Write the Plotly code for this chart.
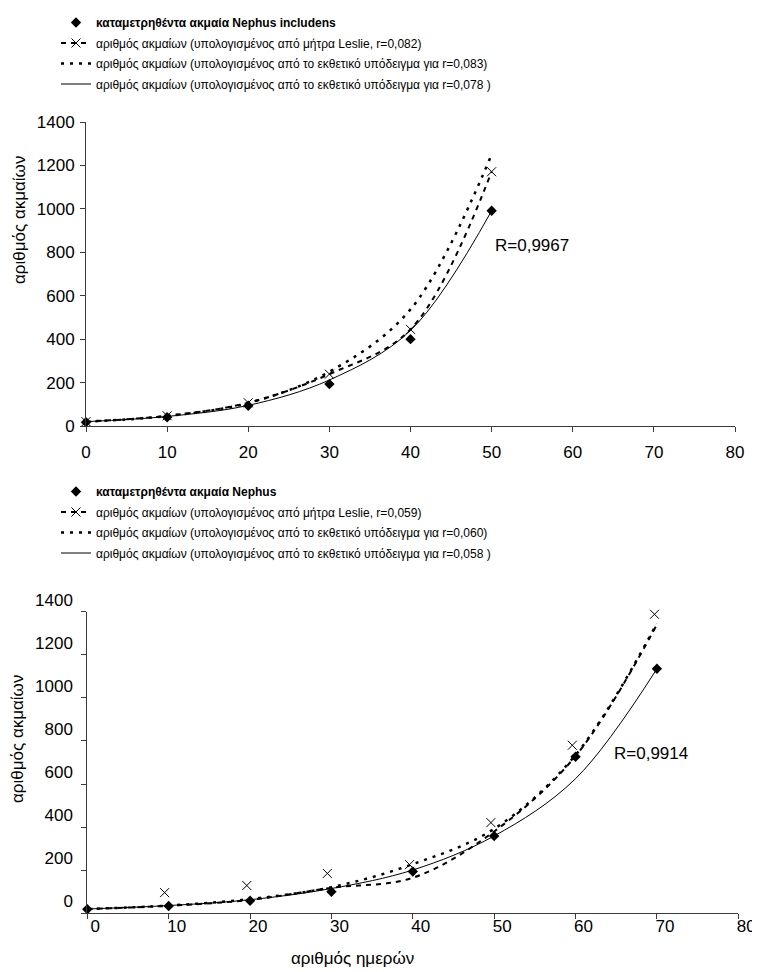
import plotly.graph_objects as go

# ---------------- data ----------------
days_top = [0, 10, 20, 30, 40, 50]
obs_top = [17, 40, 93, 193, 400, 991]
leslie_top = [20, 47, 107, 239, 445, 1171]
exp083_top = [20, 46, 106, 250, 537, 1250]
exp078_top = [20, 44, 95, 212, 440, 991]

days_bot = [0, 10, 20, 30, 40, 50, 60, 70]
obs_bot = [19, 34, 58, 100, 194, 359, 727, 1135]
leslie_pts_x_bot = [-0.5, 9.5, 19.6, 29.5, 39.6, 49.6, 59.6, 69.7]
leslie_pts_bot = [81, 96, 129, 185, 226, 421, 780, 1388]
leslie_line_bot = [20, 35, 62, 118, 165, 380, 730, 1340]
exp060_bot = [20, 36, 66, 121, 228, 392, 735, 1346]
exp058_bot = [20, 36, 63, 115, 201, 359, 625, 1135]

x_ticks = [0, 10, 20, 30, 40, 50, 60, 70, 80]
y_ticks = [0, 200, 400, 600, 800, 1000, 1200, 1400]

names_top = [
    "<b>καταμετρηθέντα ακμαία Nephus includens</b>",
    "αριθμός ακμαίων (υπολογισμένος από μήτρα Leslie, r=0,082)",
    "αριθμός ακμαίων (υπολογισμένος από το εκθετικό υπόδειγμα για r=0,083)",
    "αριθμός ακμαίων (υπολογισμένος από το εκθετικό υπόδειγμα για r=0,078 )",
]
names_bot = [
    "<b>καταμετρηθέντα ακμαία Nephus</b>",
    "αριθμός ακμαίων (υπολογισμένος από μήτρα Leslie, r=0,059)",
    "αριθμός ακμαίων (υπολογισμένος από το εκθετικό υπόδειγμα για r=0,060)",
    "αριθμός ακμαίων (υπολογισμένος από το εκθετικό υπόδειγμα για r=0,058 )",
]
r_top = "R=0,9967"
r_bot = "R=0,9914"
y_title = "αριθμός ακμαίων"
x_title = "αριθμός ημερών"

FONT = "Liberation Sans, Arial, sans-serif"
W, H = 760, 972
OFF = 8  # the page body offsets the figure by 8 px
INK = "#000000"
AX = "#3a3a3a"


def px_x(p):
    return (p - OFF) / W


def px_y(p):
    return 1 - (p - OFF) / H


DIAMOND = dict(symbol="diamond", size=8, color=INK)
XMARK = dict(symbol="x-thin-open", size=9, color=INK, line=dict(width=1, color=INK))
LESLIE_DASH = dict(color=INK, width=2, dash="5px,5px", shape="spline")
EXP_DOT = dict(color=INK, width=2.5, dash="3px,6px", shape="spline")
SOLID = dict(color=INK, width=1, shape="spline")

fig = go.Figure()

# ---------- top chart ----------
fig.add_trace(go.Scatter(x=days_top, y=obs_top, mode="markers", marker=DIAMOND,
                         name=names_top[0], legend="legend", legendrank=1, legendgroup="t1",
                         xaxis="x", yaxis="y", cliponaxis=False))
fig.add_trace(go.Scatter(x=days_top, y=leslie_top, mode="lines+markers", line=LESLIE_DASH,
                         marker=XMARK, name=names_top[1], legend="legend", legendrank=2,
                         legendgroup="t2", xaxis="x", yaxis="y", cliponaxis=False))
fig.add_trace(go.Scatter(x=days_top, y=exp083_top, mode="lines", line=EXP_DOT,
                         name=names_top[2], legend="legend", legendrank=3, legendgroup="t3",
                         xaxis="x", yaxis="y", cliponaxis=False))
fig.add_trace(go.Scatter(x=days_top, y=exp078_top, mode="lines", line=SOLID,
                         name=names_top[3], legend="legend", legendrank=4, legendgroup="t4",
                         xaxis="x", yaxis="y", cliponaxis=False))

# ---------- bottom chart ----------
fig.add_trace(go.Scatter(x=days_bot, y=obs_bot, mode="markers", marker=DIAMOND,
                         name=names_bot[0], legend="legend2", legendrank=1, legendgroup="b1",
                         xaxis="x2", yaxis="y2", cliponaxis=False))
# legend entry for the Leslie series (line + marker sample)
fig.add_trace(go.Scatter(x=[None], y=[None], mode="lines+markers", line=LESLIE_DASH,
                         marker=XMARK, name=names_bot[1], legend="legend2", legendrank=2,
                         legendgroup="b2", xaxis="x2", yaxis="y2"))
fig.add_trace(go.Scatter(x=days_bot, y=leslie_line_bot, mode="lines", line=LESLIE_DASH,
                         showlegend=False, legendgroup="b2", legend="legend2",
                         xaxis="x2", yaxis="y2", cliponaxis=False))
fig.add_trace(go.Scatter(x=leslie_pts_x_bot, y=leslie_pts_bot, mode="markers", marker=XMARK,
                         showlegend=False, legendgroup="b2", legend="legend2",
                         xaxis="x2", yaxis="y2", cliponaxis=False))
fig.add_trace(go.Scatter(x=days_bot, y=exp060_bot, mode="lines", line=EXP_DOT,
                         name=names_bot[2], legend="legend2", legendrank=3, legendgroup="b3",
                         xaxis="x2", yaxis="y2", cliponaxis=False))
fig.add_trace(go.Scatter(x=days_bot, y=exp058_bot, mode="lines", line=SOLID,
                         name=names_bot[3], legend="legend2", legendrank=4, legendgroup="b4",
                         xaxis="x2", yaxis="y2", cliponaxis=False))

axis_common = dict(showline=True, linecolor=AX, linewidth=1, ticks="outside",
                   ticklen=5, tickcolor=AX, tickwidth=1, showgrid=False,
                   zeroline=False, automargin=False,
                   tickfont=dict(family=FONT, size=17, color=INK))

legend_common = dict(xanchor="left", yanchor="top", bgcolor="rgba(0,0,0,0)",
                     font=dict(family=FONT, size=12, color=INK), itemwidth=30,
                     tracegroupgap=1.5, traceorder="grouped", borderwidth=0,
                     xref="container", yref="container")

fig.update_layout(
    template="none",
    width=W, height=H, margin=dict(l=0, r=0, t=0, b=0, autoexpand=False),
    paper_bgcolor="white", plot_bgcolor="white",
    font=dict(family=FONT, color=INK),
    xaxis=dict(domain=[px_x(86), px_x(735)], range=[0, 80], tickvals=x_ticks,
               anchor="y", ticklabelstandoff=6, **axis_common),
    yaxis=dict(domain=[px_y(426), px_y(122)], range=[0, 1400], tickvals=y_ticks,
               anchor="x", ticklabelstandoff=2, **axis_common),
    xaxis2=dict(domain=[px_x(87.3), px_x(738.3)], range=[0, 80], tickvals=x_ticks,
                anchor="y2", ticklabelshift=8, ticklabelstandoff=-8, **axis_common),
    yaxis2=dict(domain=[px_y(913.3), px_y(611.7)], range=[0, 1400], tickvals=y_ticks,
                anchor="x2", ticklabelshift=-12, ticklabelstandoff=5, **axis_common),
    legend=dict(x=px_x(56), y=px_y(6), **legend_common),
    legend2=dict(x=px_x(56), y=px_y(477), **legend_common),
    showlegend=True,
    annotations=[
        dict(text=r_top, x=50.2, y=829, xref="x", yref="y", xanchor="left",
             yanchor="middle", showarrow=False, font=dict(family=FONT, size=17, color=INK)),
        dict(text=r_bot, x=64.5, y=743, xref="x2", yref="y2", xanchor="left",
             yanchor="middle", showarrow=False, font=dict(family=FONT, size=17, color=INK)),
        dict(text=y_title, x=px_x(19), y=px_y(220), xref="paper", yref="paper",
             textangle=-90, showarrow=False, xanchor="center", yanchor="middle",
             font=dict(family=FONT, size=17, color=INK)),
        dict(text=y_title, x=px_x(17), y=px_y(739), xref="paper", yref="paper",
             textangle=-90, showarrow=False, xanchor="center", yanchor="middle",
             font=dict(family=FONT, size=17, color=INK)),
        dict(text=x_title, x=px_x(352), y=px_y(958), xref="paper", yref="paper",
             showarrow=False, xanchor="center", yanchor="middle",
             font=dict(family=FONT, size=17, color=INK)),
    ],
)

fig.write_html("out.html")
